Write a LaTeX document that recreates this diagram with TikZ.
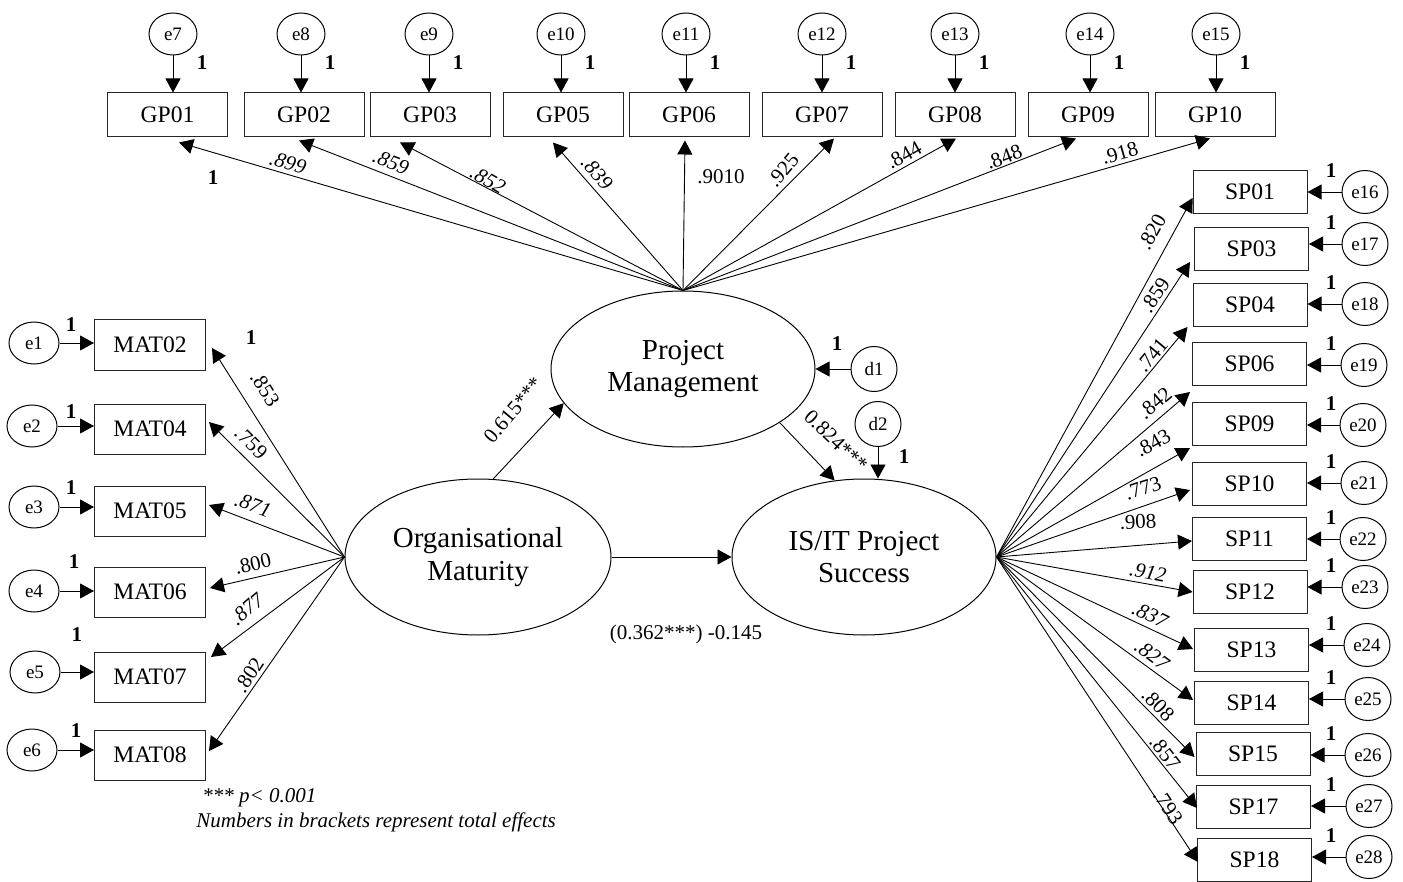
\documentclass[tikz,border=0pt]{standalone}
\usepackage{fontspec}
\setmainfont{Liberation Serif}
\usetikzlibrary{arrows.meta,shapes.geometric,calc}

\tikzset{
  obs/.style={draw=black!85, line width=0.5pt, inner sep=0pt,
    minimum height=22pt, font=\fontsize{11.8}{13}\selectfont},
  lat/.style={ellipse, draw, line width=0.5pt, inner sep=0pt, align=center,
    minimum width=132pt, minimum height=78pt, font=\fontsize{14.5}{16.4}\selectfont},
  err/.style={ellipse, draw, line width=0.5pt, inner sep=0pt,
    minimum width=24pt, minimum height=21pt, font=\fontsize{9.5}{10}\selectfont},
  arr/.style={-{Triangle[length=7pt,width=7.5pt]}, line width=0.45pt},
  one/.style={inner sep=0pt, font=\bfseries\fontsize{10.5}{11}\selectfont},
  coef/.style={inner sep=0pt, font=\fontsize{10.5}{12}\selectfont},
  coefi/.style={inner sep=0pt, font=\itshape\fontsize{10.5}{12}\selectfont},
  note/.style={inner sep=0pt, anchor=west, font=\itshape\fontsize{10.5}{12}\selectfont}
}

\begin{document}
\begin{tikzpicture}[x=0.5pt,y=-0.5pt]
\useasboundingbox (0,0) rectangle (1403,882);

% latent variables
\node[lat] (PM) at (683,369) {Project\\Management};
\node[lat, minimum width=133pt] (OM) at (478,557) {Organisational\\Maturity};
\node[lat] (IS) at (864,557) {IS/IT Project\\Success};

% disturbances
\node[err, minimum width=23pt, minimum height=22.5pt] (d1) at (874,369) {d1};
\node[err, minimum width=23pt, minimum height=22.5pt] (d2) at (878,424) {d2};
\draw[arr] (d1) -- (PM.east);
\draw[arr] (d2) -- (d2 |- IS.north);
\node[one] at (837,344) {1};
\node[one] at (904,457) {1};

% structural paths
\draw[arr] (OM.79) -- (PM.196.6);
\draw[arr] (PM.-29.5) -- (IS.111);
\draw[arr] (OM.east) -- (IS.west);
\node[coef, rotate=50] at (513,410) {0.615***};
\node[coef, rotate=-44] at (836,441) {0.824***};
\node[coef] at (686,634) {(0.362***) -0.145};

% Project Management indicators
\foreach \g/\bx/\e/\ex/\tx/\ty in {
  GP01/167.5/e7/173/11.5/5, GP02/304/e8/301/-5/3, GP03/430/e9/429/-30/5,
  GP05/563/e10/561/-10/5, GP06/689/e11/686/-4/3, GP07/822/e12/822/12/1,
  GP08/955/e13/955/1/1, GP09/1088/e14/1090/-12/1, GP10/1215/e15/1216/-5/1}{
  \node[obs, minimum width=60pt] (\g) at (\bx,115) {\g};
  \node[err] (\e) at (\ex,34) {\e};
  \draw[arr] (\e) -- (\e |- \g.north);
  \node[one] at (\ex+29,63) {1};
  \draw[arr] (PM.north) -- ($(\g.south)+(\tx,\ty)$);
}
\node[one] at (213,178) {1};
\node[coefi, rotate=-17] at (288,163) {.899};
\node[coefi, rotate=-22] at (391,162) {.859};
\node[coefi, rotate=-30] at (488,180) {.852};
\node[coefi, rotate=-50] at (597,173) {.839};
\node[coef] at (721,177) {.9010};
\node[coef, rotate=50] at (783,170) {.925};
\node[coef, rotate=29] at (904,155) {.844};
\node[coef, rotate=21] at (1004,157) {.848};
\node[coef, rotate=16] at (1120,153) {.918};

% Organisational Maturity indicators
\foreach \m/\my/\e/\ey/\ex/\tx/\ty/\ox/\oy in {
  MAT02/345/e1/343/34/6/3/71/325, MAT04/429/e2/426/32/3/-7/71/412,
  MAT05/511/e3/507/34/3/-6/71/488, MAT06/592/e4/591/34/4/-4/74/562,
  MAT07/677/e5/672/35/5/-20/77/635, MAT08/755/e6/750/32/3/-4/76/731}{
  \node[obs, minimum width=55.5pt, minimum height=25pt] (\m) at (150,\my) {\m};
  \node[err, minimum width=25pt] (\e) at (\ex,\ey) {\e};
  \draw[arr] (\e) -- (\e -| \m.west);
  \node[one] at (\ox,\oy) {1};
  \draw[arr] (OM.west) -- ($(\m.east)+(\tx,\ty)$);
}
\node[one] at (251,338) {1};
\node[coef, rotate=-58] at (265,389) {.853};
\node[coef, rotate=-45] at (251,443) {.759};
\node[coefi, rotate=-20] at (253,505) {.871};
\node[coef, rotate=13] at (253,564) {.800};
\node[coefi, rotate=40] at (247,609) {.877};
\node[coef, rotate=57] at (249,675) {.802};

% IS/IT Project Success indicators
\foreach \s/\bx/\by/\e/\ex/\ey/\tx/\ty in {
  SP01/1250/192/e16/1365/192/0/6, SP03/1251.5/249/e17/1365/244/-4/13,
  SP04/1250/305/e18/1365/304/-5/22, SP06/1249.5/364/e19/1364/365/-2/28,
  SP09/1249.5/424/e20/1363/425/-2/24, SP10/1249.5/484/e21/1364/483/-2/6,
  SP11/1249.5/539/e22/1363/539/0/2, SP12/1250/592/e23/1365/587/0/0,
  SP13/1251.5/650/e24/1367/645/-1/-1, SP14/1251.5/703/e25/1368/699/-1/-3,
  SP15/1253/754/e26/1368/755/-1/3, SP17/1253.5/807/e27/1369/806/1/1,
  SP18/1254.5/860/e28/1369/857/1/2}{
  \node[obs, minimum width=57pt, minimum height=21.5pt] (\s) at (\bx,\by) {\s};
  \node[err, minimum width=23pt, minimum height=21.5pt] (\e) at (\ex,\ey) {\e};
  \draw[arr] (\e) -- (\e -| \s.east);
  \node[one] at (1331,\ey-21) {1};
  \draw[arr] (IS.east) -- ($(\s.west)+(\tx,\ty)$);
}
\node[coef, rotate=61] at (1152,232) {.820};
\node[coef, rotate=57] at (1155,295) {.859};
\node[coef, rotate=50] at (1152,355) {.741};
\node[coef, rotate=40] at (1155,403) {.842};
\node[coef, rotate=29] at (1153,443) {.843};
\node[coef, rotate=18] at (1143,488) {.773};
\node[coef, rotate=3] at (1138,522) {.908};
\node[coefi, rotate=-11] at (1148,572) {.912};
\node[coefi, rotate=-26] at (1150,615) {.837};
\node[coefi, rotate=-37] at (1152,655) {.827};
\node[coef, rotate=-46] at (1158,705) {.808};
\node[coef, rotate=-52] at (1165,753) {.857};
\node[coef, rotate=-57] at (1168,807) {.793};

% notes
\node[note] (n1) at (202,798) {*** p< 0.001};
\node[note] (n2) at (196,822) {Numbers in brackets represent total effects};
\end{tikzpicture}
\end{document}
